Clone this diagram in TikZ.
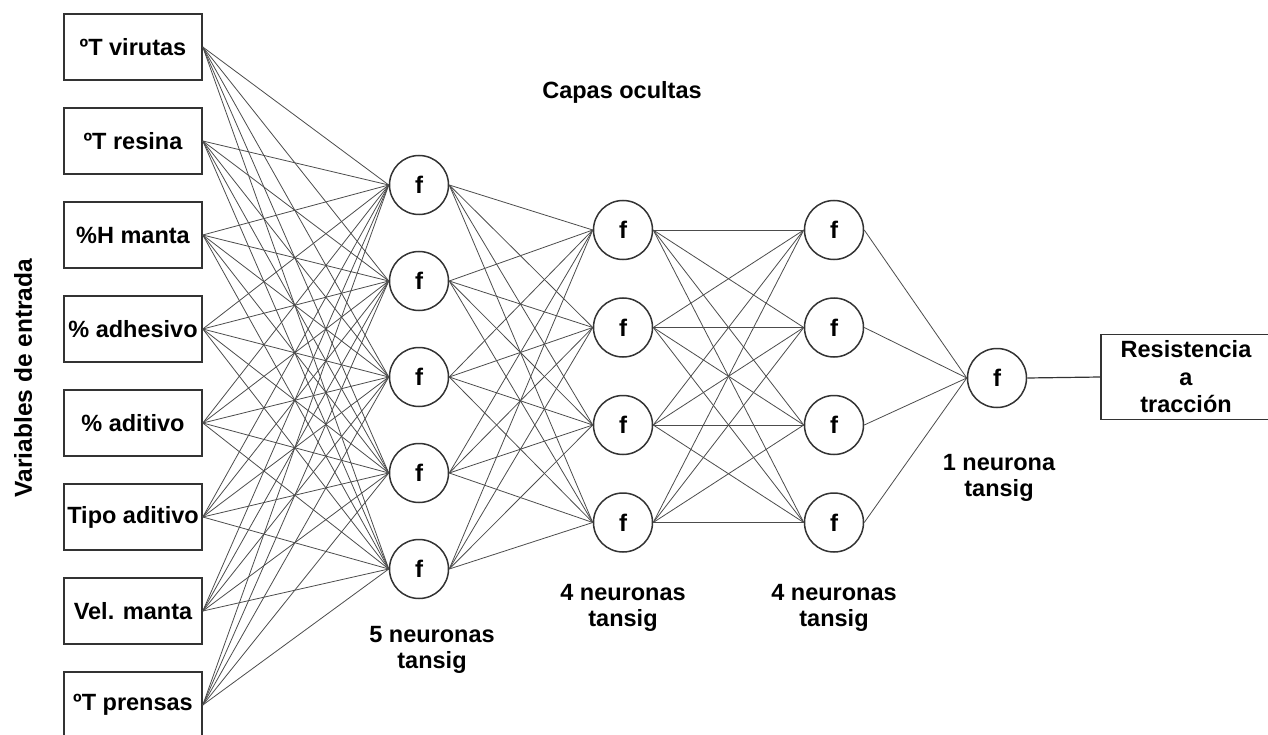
\documentclass[tikz,border=0pt]{standalone}
\usepackage{fontspec}
\setmainfont{Liberation Sans}
\begin{document}
\begin{tikzpicture}[x=1pt,y=-1pt,
  inbox/.style={draw=black!80,line width=1.6pt,minimum width=138pt,minimum height=66pt,inner sep=0pt,font=\fontsize{23.5}{27.5}\selectfont\bfseries},
  neuron/.style={circle,draw=black!80,line width=1.5pt,minimum size=59pt,inner sep=0pt,font=\fontsize{24}{27}\selectfont\bfseries},
  lbl/.style={align=center,font=\fontsize{23.5}{26}\selectfont\bfseries},
  wire/.style={black!70,line width=0.8pt}]
\useasboundingbox (0,0) rectangle (1268,735);
% input variables
\foreach \txt [count=\i] in {ºT virutas,ºT resina,\%H manta,\% adhesivo,\% aditivo,Tipo aditivo,Vel. manta,ºT prensas}
  \node[inbox] (in\i) at (133,{47+94*(\i-1)}) {\txt};
% hidden layers
\foreach \i in {1,...,5}
  \node[neuron] (ha\i) at (419,{185+96*(\i-1)}) {f};
\foreach \i in {1,...,4}
  \node[neuron] (hb\i) at (623,{230+97.5*(\i-1)}) {f};
\foreach \i in {1,...,4}
  \node[neuron] (hc\i) at (834,{230+97.5*(\i-1)}) {f};
\node[neuron] (out) at (997,378) {f};
\node[inbox,minimum width=170pt,minimum height=85pt,align=center] (res) at (1186,377) {Resistencia\\a\\tracción};
% connections
\foreach \i in {1,...,8}
  \foreach \j in {1,...,5}
    \draw[wire] (in\i.east) -- (ha\j.west);
\foreach \i in {1,...,5}
  \foreach \j in {1,...,4}
    \draw[wire] (ha\i.east) -- (hb\j.west);
\foreach \i in {1,...,4}
  \foreach \j in {1,...,4}
    \draw[wire] (hb\i.east) -- (hc\j.west);
\foreach \i in {1,...,4}
  \draw[wire] (hc\i.east) -- (out.west);
\draw[black!80,line width=1.2pt] (out.east) -- (res.west);
% labels
\node[lbl] (capas) at (622,92) {Capas ocultas};
\node[lbl] (la) at (432,650) {5 neuronas\\tansig};
\node[lbl] (lb) at (623,608) {4 neuronas\\tansig};
\node[lbl] (lc) at (834,608) {4 neuronas\\tansig};
\node[lbl] (ld) at (999,478) {1 neurona\\tansig};
\node[lbl,rotate=90,font=\fontsize{24.5}{27}\selectfont\bfseries] (vars) at (23,378) {Variables de entrada};
\end{tikzpicture}
\end{document}
